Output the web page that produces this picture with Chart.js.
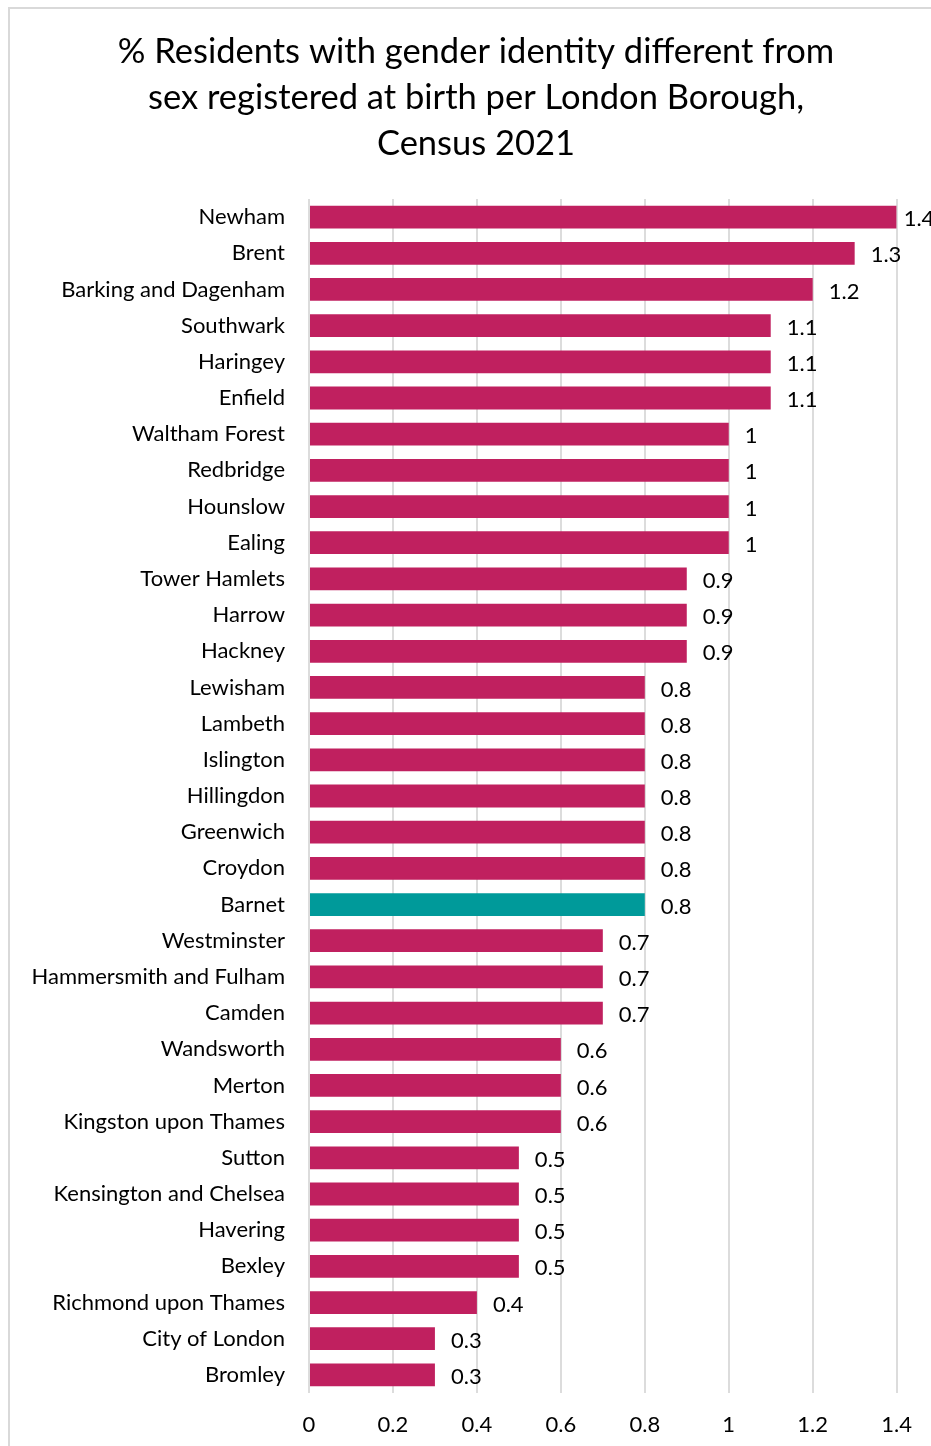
<!DOCTYPE html>
<html>
<head>
<meta charset="utf-8">
<script src="https://cdn.jsdelivr.net/npm/chart.js@4/dist/chart.umd.min.js"></script>
<style>
  html, body { margin: 0; padding: 0; background: #fff; overflow: hidden; }
  #frame { position: absolute; left: 8px; top: 7px; width: 1000px; height: 1500px;
           border-left: 2px solid #d9d9d9; border-top: 2px solid #d9d9d9; box-sizing: border-box; }
  #wrap { position: absolute; left: 0; top: 0; width: 931px; height: 1446px; }
</style>
</head>
<body>
<div id="frame"></div>
<div id="wrap"><canvas id="c" width="931" height="1446"></canvas></div>
<script>
const titleLines = [
  "% Residents with gender identity different from",
  "sex registered at birth per London Borough,",
  "Census 2021"
];
const boroughs = [
  "Newham", "Brent", "Barking and Dagenham", "Southwark", "Haringey", "Enfield",
  "Waltham Forest", "Redbridge", "Hounslow", "Ealing", "Tower Hamlets", "Harrow",
  "Hackney", "Lewisham", "Lambeth", "Islington", "Hillingdon", "Greenwich",
  "Croydon", "Barnet", "Westminster", "Hammersmith and Fulham", "Camden",
  "Wandsworth", "Merton", "Kingston upon Thames", "Sutton", "Kensington and Chelsea",
  "Havering", "Bexley", "Richmond upon Thames", "City of London", "Bromley"
];
const percentValues = [
  1.4, 1.3, 1.2, 1.1, 1.1, 1.1,
  1, 1, 1, 1, 0.9, 0.9,
  0.9, 0.8, 0.8, 0.8, 0.8, 0.8,
  0.8, 0.8, 0.7, 0.7, 0.7,
  0.6, 0.6, 0.6, 0.5, 0.5,
  0.5, 0.5, 0.4, 0.3, 0.3
];
const highlighted = "Barnet";
const xTickValues = [0, 0.2, 0.4, 0.6, 0.8, 1, 1.2, 1.4];

const FONT = "Lato, 'Open Sans', sans-serif";
const MAGENTA = "#C0205F";
const TEAL = "#009A9A";

const titlePlugin = {
  id: "titleDraw",
  afterDraw(chart) {
    const ctx = chart.ctx;
    ctx.save();
    ctx.fillStyle = "#000";
    ctx.font = "34.5px " + FONT;
    ctx.textAlign = "center";
    ctx.textBaseline = "middle";
    const ys = [52, 98, 144];
    titleLines.forEach((t, i) => ctx.fillText(t, 476, ys[i]));
    ctx.restore();
  }
};

const labelPlugin = {
  id: "valueLabels",
  afterDatasetsDraw(chart) {
    const ctx = chart.ctx;
    const meta = chart.getDatasetMeta(0);
    ctx.save();
    ctx.fillStyle = "#000";
    ctx.font = "22px " + FONT;
    ctx.textAlign = "left";
    ctx.textBaseline = "middle";
    meta.data.forEach((bar, i) => {
      let x = bar.x + 16;
      if (x > chart.chartArea.right) x = chart.chartArea.right + 7;
      ctx.fillText(String(percentValues[i]), x, bar.y + 2);
    });
    ctx.restore();
  }
};

new Chart(document.getElementById("c"), {
  type: "bar",
  data: {
    labels: boroughs,
    datasets: [{
      data: percentValues,
      backgroundColor: boroughs.map(b => b === highlighted ? TEAL : MAGENTA),
      borderWidth: 0,
      categoryPercentage: 1,
      barPercentage: 0.63
    }]
  },
  options: {
    indexAxis: "y",
    responsive: false,
    animation: false,
    devicePixelRatio: 1,
    layout: { padding: { top: 199, right: 33, left: 0, bottom: 0 } },
    plugins: { legend: { display: false }, tooltip: { enabled: false }, title: { display: false } },
    scales: {
      x: {
        min: 0, max: 1.4,
        afterBuildTicks(scale) { scale.ticks = xTickValues.map(v => ({ value: v })); },
        afterFit(scale) { scale.height = 53; },
        grid: { color: "#dcdcdc", lineWidth: 2, drawTicks: false },
        border: { display: false },
        ticks: {
          padding: 19,
          color: "#000",
          font: { family: FONT, size: 22 },
          callback: (v) => String(Math.round(v * 10) / 10)
        }
      },
      y: {
        afterFit(scale) { scale.width = 309; },
        grid: { display: false, drawTicks: false },
        border: { display: false },
        ticks: {
          padding: 24,
          color: "#000",
          font: { family: FONT, size: 22 },
          autoSkip: false
        }
      }
    }
  },
  plugins: [titlePlugin, labelPlugin]
});
</script>
</body>
</html>
